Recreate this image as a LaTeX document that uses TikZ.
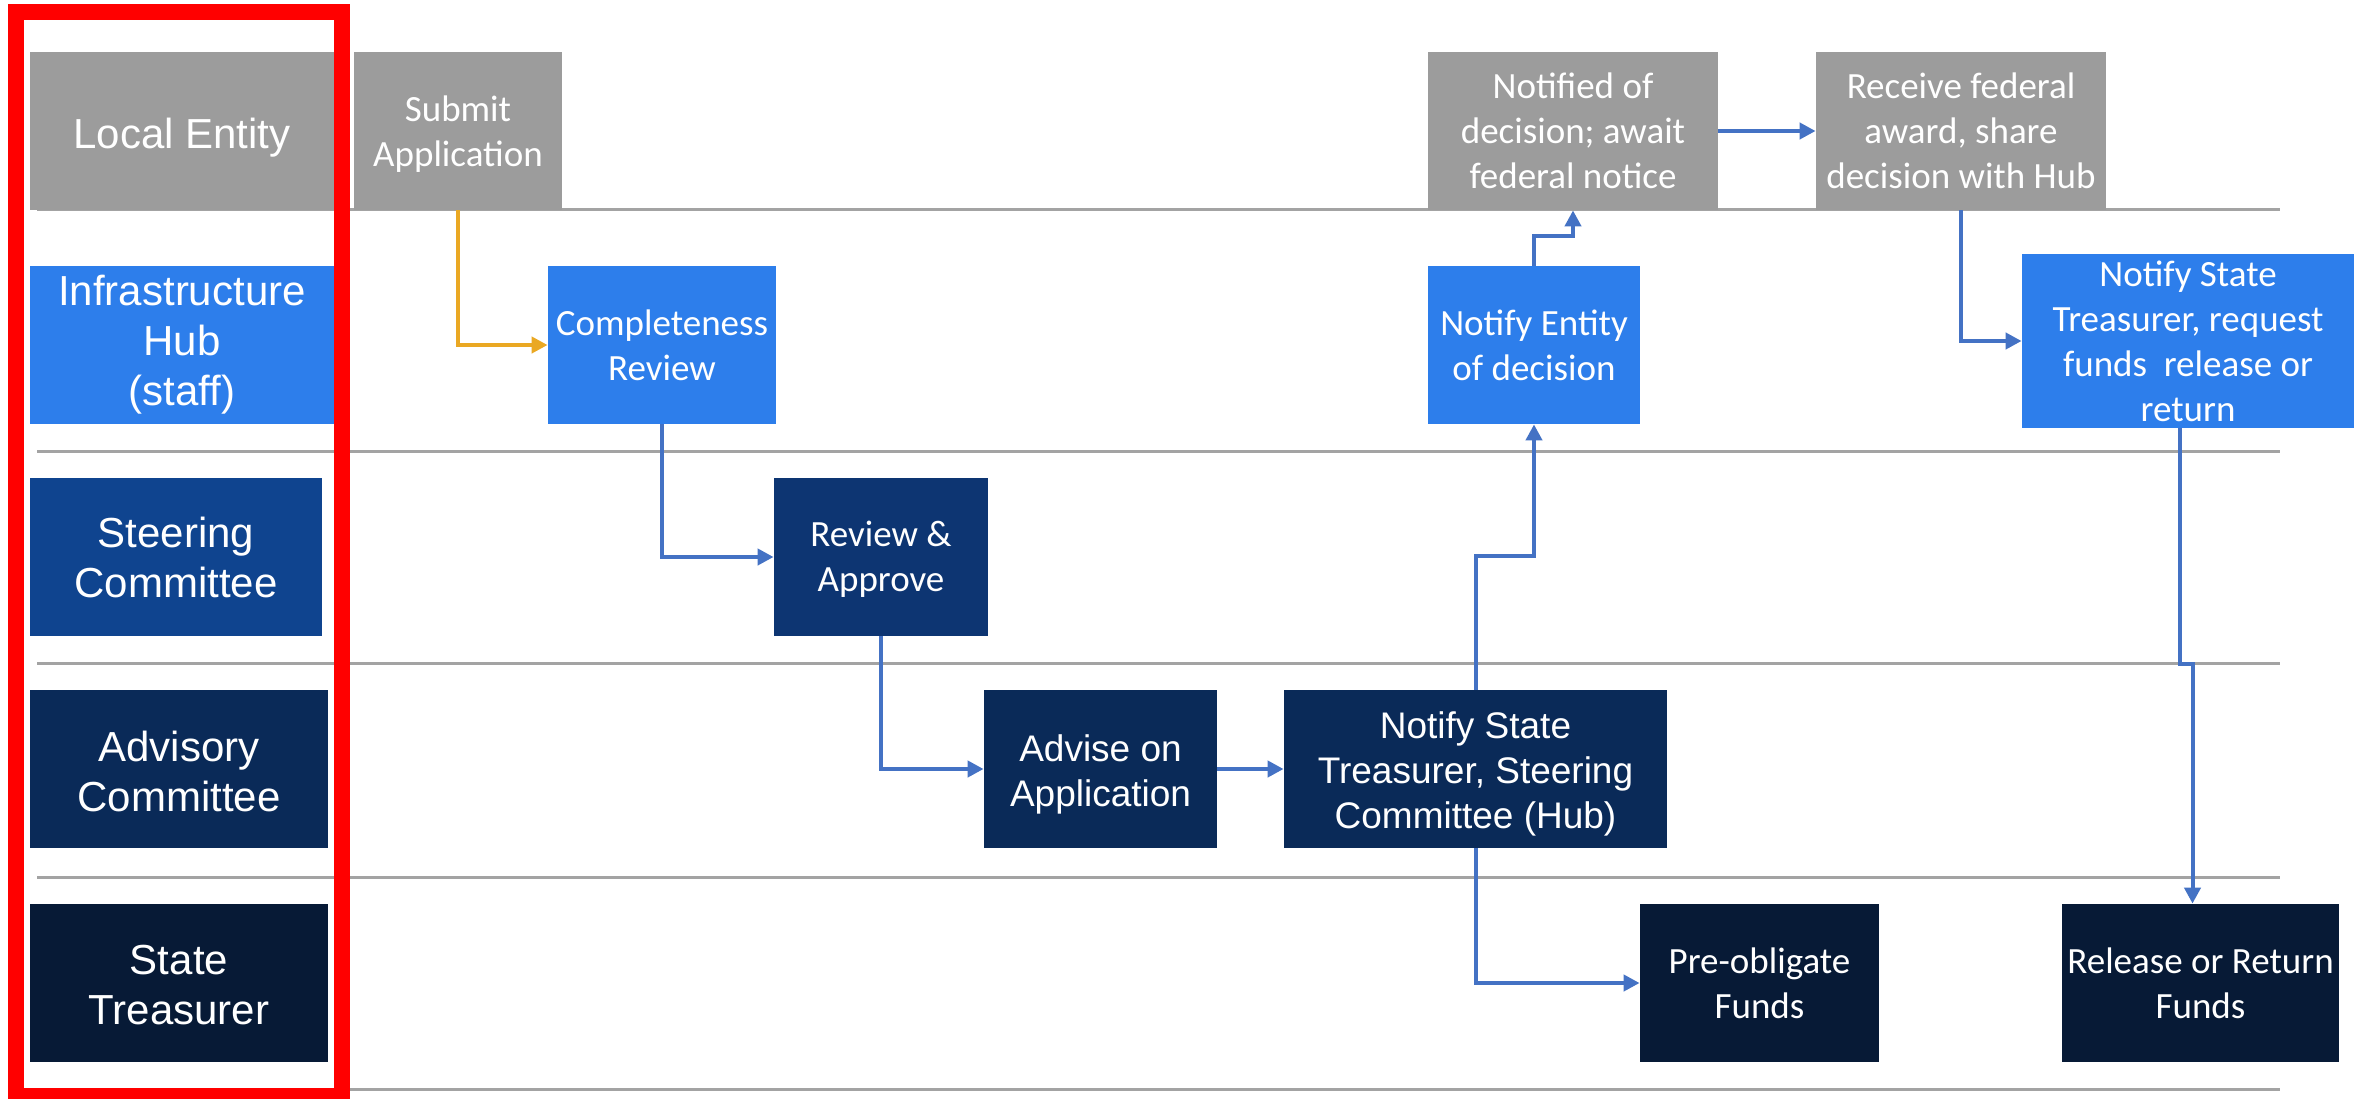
\documentclass[tikz,border=0pt]{standalone}
\usepackage{fontspec}
\setmainfont{Carlito}
\newfontfamily\arialf{Liberation Sans}
\usetikzlibrary{arrows.meta}
\definecolor{boxgray}{HTML}{9C9C9C}
\definecolor{hubblue}{HTML}{2D7EEB}
\definecolor{steerblue}{HTML}{0F448F}
\definecolor{rablue}{HTML}{0D3572}
\definecolor{advblue}{HTML}{0A2A58}
\definecolor{treasblue}{HTML}{071A36}
\definecolor{lanegray}{HTML}{A3A3A3}
\definecolor{flowblue}{HTML}{4472C4}
\definecolor{floworange}{HTML}{EAA823}
\begin{document}
\begin{tikzpicture}[x=0.5pt,y=-0.5pt,
  lane/.style={draw=lanegray, line width=1.5pt},
  lbl/.style={inner sep=0pt, text=white, font=\arialf\fontsize{21}{25}\selectfont, align=center, minimum height=79pt},
  box/.style={inner sep=0pt, text=white, font=\fontsize{18.5}{22.5}\selectfont, align=center, minimum height=79pt},
  boxa/.style={box, font=\arialf\fontsize{18.5}{22.5}\selectfont},
  ltxt/.style={inner sep=0pt, text=white, font=\arialf\fontsize{21}{25}\selectfont, align=center},
  btxt/.style={inner sep=0pt, text=white, font=\fontsize{18.5}{22.5}\selectfont, align=center},
  atxt/.style={btxt, font=\arialf\fontsize{18.5}{22.5}\selectfont},
  flow/.style={draw=flowblue, line width=2pt, -{Triangle[length=8pt,width=8pt]}},
  oflow/.style={flow, draw=floworange, -{Triangle[length=8pt,width=8pt]}}
]
\useasboundingbox (0,0) rectangle (2367,1098);
\clip (0,0) rectangle (2367,1098);
\fill[white] (0,0) rectangle (2367,1098);
% lane separators
\foreach \yy in {209,451,663,877,1089} \draw[lane] (37,\yy) -- (2280,\yy);
% lane labels
\node[lbl, fill=boxgray, minimum width=152pt,
  label={[ltxt, name=lLocalT, yshift=-3.5pt]center:Local Entity}] (lLocal) at (182,131) {};
\node[lbl, fill=hubblue,   minimum width=152pt] (lHub)   at (182,345) {Infrastructure\\Hub\\(staff)};
\node[lbl, fill=steerblue, minimum width=146pt] (lSteer) at (176,557) {Steering\\Committee};
\node[lbl, fill=advblue, minimum width=149pt,
  label={[ltxt, name=lAdvT, yshift=-1pt]center:{Advisory\\Committee}}] (lAdv) at (179,769) {};
\node[lbl, fill=treasblue, minimum width=149pt,
  label={[ltxt, name=lTreasT, yshift=-1pt]center:{State\\Treasurer}}] (lTreas) at (179,983) {};
% process boxes
\node[box, fill=boxgray, minimum width=104pt,
  label={[btxt, name=subT, yshift=-1.5pt]center:{Submit\\Application}}] (sub) at (458,131) {};
\node[box, fill=hubblue, minimum width=114pt] (comp) at (662,345) {Completeness\\Review};
\node[box, fill=rablue, minimum width=107pt,
  label={[btxt, name=raT, yshift=-1pt]center:{Review \&\\Approve}}] (ra) at (881,557) {};
\node[boxa, fill=advblue, minimum width=116.5pt,
  label={[atxt, name=advT, yshift=-2.5pt]center:{Advise on\\Application}}] (adv) at (1100.5,769) {};
\node[boxa, fill=advblue, minimum width=191.5pt,
  label={[atxt, name=nstT, yshift=-2.5pt]center:{Notify State\\Treasurer, Steering\\Committee (Hub)}}] (nst) at (1475.5,769) {};
\node[box, fill=treasblue, minimum width=119.5pt] (po) at (1759.5,983) {Pre-obligate\\Funds};
\node[box, fill=treasblue, minimum width=138.5pt] (rr) at (2200.5,983) {Release or Return\\Funds};
\node[box, fill=boxgray, minimum width=145pt] (nd) at (1573,131) {Notified of\\decision; await\\federal notice};
\node[box, fill=hubblue, minimum width=106pt] (ne) at (1534,345) {Notify Entity\\of decision};
\node[box, fill=boxgray, minimum width=145pt] (rf) at (1961,131) {Receive federal\\award, share\\decision with Hub};
\node[box, fill=hubblue, minimum width=166pt, minimum height=87pt] (nh) at (2188,341) {Notify State\\Treasurer, request\\funds\ \ release or\\return};
% connectors
\draw[oflow] (sub.south) |- (comp.west);
\draw[flow] (comp.south) |- (ra.west);
\draw[flow] (ra.south) |- (adv.west);
\draw[flow] (adv.east) -- (nst.west);
\draw[flow] (nst.north) -- ++(0,-134) -| (ne.south);
\draw[flow] (ne.north) -- ++(0,-30) -| (nd.south);
\draw[flow] (nd.east) -- (rf.west);
\draw[flow] (rf.south) |- (nh.west);
\draw[flow] ([xshift=-4pt]nh.south) -- ++(0,236) -| ([xshift=-4pt]rr.north);
\draw[flow] (nst.south) |- (po.west);
% highlight frame
\draw[red, line width=8pt] (16,12) rectangle (342,1096);
\end{tikzpicture}
\end{document}
